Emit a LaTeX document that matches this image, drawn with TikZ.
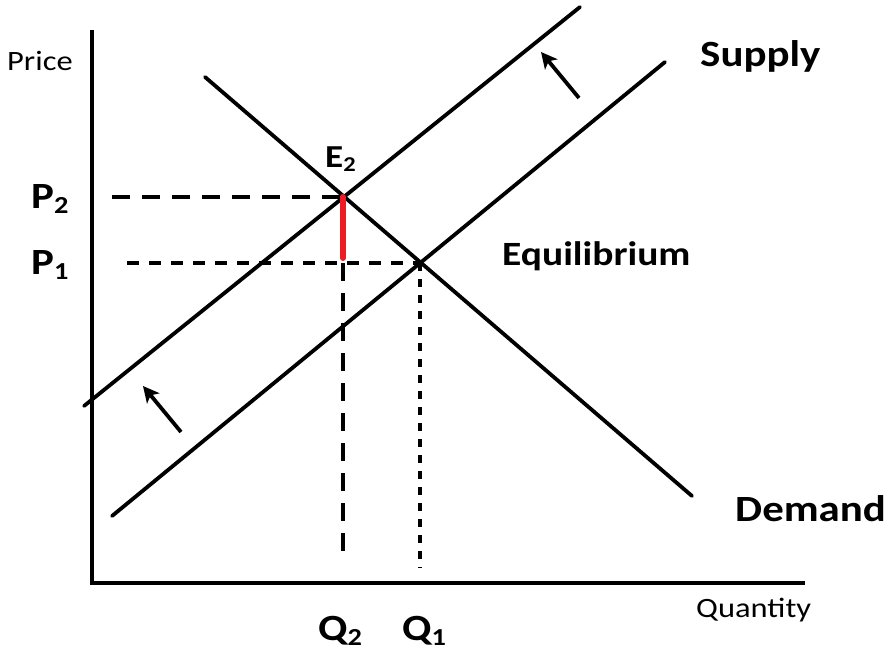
\documentclass[tikz,border=0pt]{standalone}
\usepackage{fontspec}
\setmainfont{Carlito}[FakeStretch=1.16]
\usetikzlibrary{arrows.meta}
\definecolor{redline}{HTML}{ED1C24}
\newcommand{\subs}[1]{\raisebox{-0.14em}{\scalebox{0.66}{#1}}}
\tikzset{
  curve/.style={line width=3.8pt,line cap=round},
  axisline/.style={line width=4pt},
  longdash/.style={line width=4pt,dash pattern=on 18pt off 12pt},
  shortdash/.style={line width=4.4pt,dash pattern=on 12pt off 10pt},
  dotdash/.style={line width=4.4pt,dash pattern=on 8pt off 8pt},
  shiftarrow/.style={line width=3.8pt,-{Stealth[length=16pt,width=16pt,inset=4pt]}},
  lab/.style={inner sep=0pt,anchor=base west},
  big/.style={font=\fontsize{37}{40}\selectfont\bfseries},
  mid/.style={font=\fontsize{34}{38}\selectfont\bfseries},
  small/.style={font=\fontsize{28}{32}\selectfont},
}
\begin{document}
\begin{tikzpicture}[x=1pt,y=-1pt]
\useasboundingbox (0,0) rectangle (896,650);
% axes
\coordinate (ytop) at (92,30);
\coordinate (origin) at (92,583);
\coordinate (xend) at (805,583);
\draw[axisline] (ytop) -- (origin) -- (xend);
% curves
\coordinate (s1a) at (112,516);
\coordinate (s1b) at (665,62);
\coordinate (s2a) at (84,406);
\coordinate (s2b) at (580,7);
\coordinate (da) at (205,77);
\coordinate (db) at (692,496);
\draw[curve] (s1a) -- (s1b);
\draw[curve] (s2a) -- (s2b);
\draw[curve] (da) -- (db);
% equilibrium points
\coordinate (E1) at (420,263);
\coordinate (E2) at (343,197);
\coordinate (p2start) at (112,197);
\coordinate (p1start) at (127,263);
\coordinate (q2end) at (343,553);
\coordinate (q1end) at (420,568);
\coordinate (q2top) at (343,263);
\coordinate (redend) at (343,258);
\draw[longdash] (p2start) -- (E2);
\draw[shortdash] (p1start) -- (E1);
\draw[longdash] (q2top) -- (q2end);
\draw[dotdash] (E1) -- (q1end);
\draw[line width=6pt,redline,line cap=round] (E2) -- (redend);
% shift arrows
\coordinate (a1t) at (579,98);
\coordinate (a1h) at (541,52);
\coordinate (a2t) at (181,432);
\coordinate (a2h) at (143,386);
\draw[shiftarrow] (a1t) -- (a1h);
\draw[shiftarrow] (a2t) -- (a2h);
% labels
\node[lab,small] (price) at (7,71) {Price};
\node[lab,small] (qty) at (696,617) {Quantity};
\node[lab,big] (supply) at (700,67) {Supply};
\node[lab,big] (demand) at (735,521) {Demand};
\node[lab,mid] (eq) at (502,265) {Equilibrium};
\node[lab,big] (P2) at (31,208) {P\subs{2}};
\node[lab,big] (P1) at (31,274) {P\subs{1}};
\node[lab,big] (Q2) at (318,640) {Q\subs{2}};
\node[lab,big] (Q1) at (402,640) {Q\subs{1}};
\node[lab,font=\fontsize{32}{36}\selectfont\bfseries] (E2lab) at (325,167) {E\subs{2}};
\end{tikzpicture}
\end{document}
